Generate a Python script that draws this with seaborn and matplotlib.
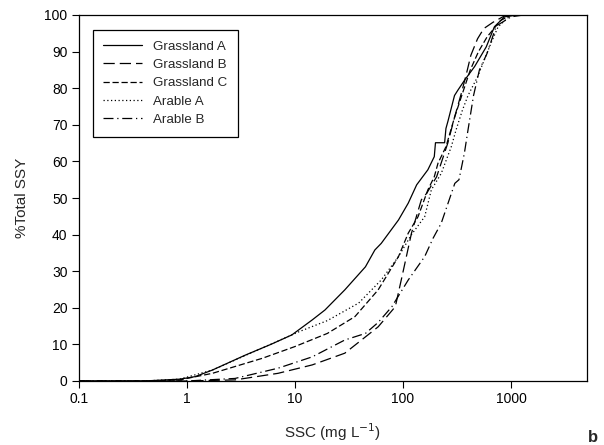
import numpy as np
import pandas as pd
import matplotlib
matplotlib.use("Agg")
import matplotlib.pyplot as plt
import seaborn as sns

# ---- data ----
ga_x = [0.1, 0.4, 0.86, 1.2, 1.73, 3.5, 6, 9.4, 14.5, 19, 29, 45, 55, 63, 91, 112, 134, 170, 195, 200,
        243, 250, 261, 300, 323, 372, 460, 590, 702, 870, 1150, 5000]
ga_y = [0, 0, 0.5, 1.2, 3.0, 7.1, 10, 12.6, 16.7, 19.4, 24.9, 31.2, 35.8, 37.6, 44, 48.6, 53.6, 57.7, 61.3, 65.1,
        65.1, 69, 71, 78, 79.5, 82.2, 85.9, 91.3, 96.8, 99.5, 100, 100]

gb_x = [0.1, 1, 2.8, 7, 14.5, 29, 59, 85, 98, 120, 148, 166, 205, 260, 300, 350, 390, 425, 490, 560, 680, 900, 5000]
gb_y = [0, 0, 0.3, 2.1, 4.4, 7.6, 14.8, 20.3, 28.5, 40.4, 49.5, 51.3, 55.8, 65, 72, 79, 84.4, 89, 93.5, 96.3, 98, 100, 100]

gc_x = [0.1, 0.5, 0.86, 1.73, 5, 10, 20, 36, 59, 91, 112, 138, 170, 195, 211, 250, 300, 350, 420, 500, 600, 800, 1000, 5000]
gc_y = [0, 0, 0.3, 2.1, 6.2, 9.4, 13, 17.6, 24.9, 34, 40.4, 44.9, 52.2, 55.8, 59.5, 64, 72, 78, 85, 90, 94, 98.5, 100, 100]

aa_x = [0.1, 0.4, 0.86, 1.73, 3.5, 11, 20, 39, 63, 91, 120, 159, 183, 226, 280, 310, 355, 400, 490, 650, 760, 1000, 5000]
aa_y = [0, 0, 0.5, 3, 7, 13.5, 16.5, 21.3, 27.6, 34, 40, 44.9, 52.2, 56.7, 64, 68.6, 74, 78, 83.1, 92.2, 96.8, 100, 100]

ab_x = [0.1, 1, 2.8, 7, 14.5, 29, 45, 59, 79, 112, 159, 190, 226, 302, 330, 370, 400, 450, 510, 600, 730, 1000, 1300, 5000]
ab_y = [0, 0, 0.7, 3.5, 6.6, 11.2, 13, 16, 20.3, 27.6, 34, 39, 43.1, 54, 55, 62.2, 68.6, 78, 85, 89.5, 97, 99.5, 100, 100]

names = ["Grassland A", "Grassland B", "Grassland C", "Arable A", "Arable B"]
xs = [ga_x, gb_x, gc_x, aa_x, ab_x]
ys = [ga_y, gb_y, gc_y, aa_y, ab_y]

x_ticks = [0.1, 1, 10, 100, 1000]
x_tick_labels = ["0.1", "1", "10", "100", "1000"]
y_ticks = [0, 10, 20, 30, 40, 50, 60, 70, 80, 90, 100]

dash_styles = {
    "Grassland A": "",
    "Grassland B": (9, 4),
    "Grassland C": (5, 2.2),
    "Arable A": (1, 2),
    "Arable B": (8, 3, 1, 3),
}

frames = [pd.DataFrame({"SSC": x, "SSY": y, "Site": n}) for n, x, y in zip(names, xs, ys)]
df = pd.concat(frames, ignore_index=True)

sns.set_style("ticks")
plt.rcParams['font.family'] = ['Liberation Sans', 'DejaVu Sans']

fig = plt.figure(figsize=(6.04, 4.45), dpi=100)
ax = fig.add_axes([78.6 / 604, 64 / 445, 508 / 604, 366 / 445])

sns.lineplot(data=df, x="SSC", y="SSY", hue="Site", style="Site",
             palette={n: "black" for n in names}, dashes=dash_styles,
             hue_order=names, style_order=names, sort=False, estimator=None,
             linewidth=0.9, ax=ax)

ax.set_xscale("log")
ax.set_xlim(0.1, 5000)
ax.set_ylim(0, 100)
ax.set_xticks(x_ticks)
ax.set_xticklabels(x_tick_labels)
ax.xaxis.set_minor_locator(matplotlib.ticker.NullLocator())
ax.set_yticks(y_ticks)
ax.tick_params(axis="both", direction="out", length=5, width=0.8, labelsize=10, colors="black", pad=3)
for s in ax.spines.values():
    s.set_visible(True)
    s.set_color("black")
    s.set_linewidth(0.9)

ax.set_xlabel("SSC (mg L$^{-1}$)", fontsize=11, labelpad=11)
ax.set_ylabel("%Total SSY", fontsize=11, labelpad=11)

leg = ax.legend(loc="upper left", bbox_to_anchor=(0.028, 0.96), borderaxespad=0,
                fancybox=False, edgecolor="black", framealpha=1, fontsize=9.6,
                handlelength=2.9, handletextpad=0.8, labelspacing=0.45,
                borderpad=0.8)
leg.get_frame().set_linewidth(0.9)

fig.text(593 / 604, 1 - 437 / 445, "b", fontsize=12, fontweight="bold", ha="center", va="center")

fig.savefig("out.png", dpi=100)
